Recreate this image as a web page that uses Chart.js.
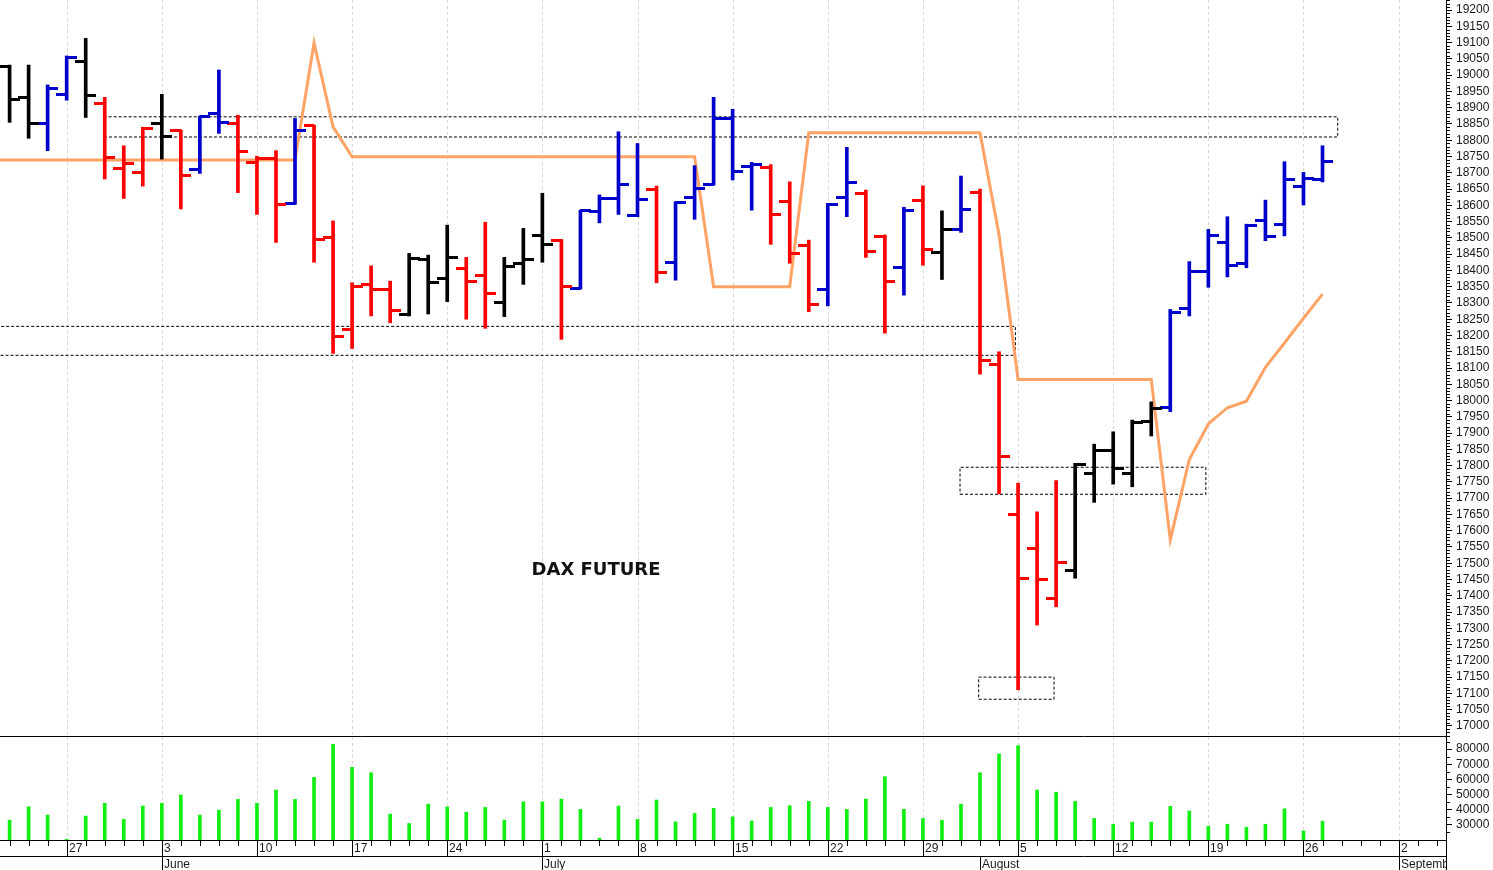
<!DOCTYPE html>
<html><head><meta charset="utf-8">
<script src="https://cdn.jsdelivr.net/npm/chart.js@4.4.1/dist/chart.umd.min.js"></script>
<style>
html,body{margin:0;padding:0;background:#fff;}
#wrap{position:relative;width:1493px;height:870px;overflow:hidden;background:#fff;}
canvas{position:absolute;left:0;}
#title{position:absolute;left:596px;top:569px;transform:translate(-50%,-50%);font:bold 18px "DejaVu Sans",Verdana,sans-serif;color:#111;white-space:nowrap;line-height:1;}
</style></head><body>
<div id="wrap">
<canvas id="price" width="1493" height="737" style="top:0"></canvas>
<canvas id="vol" width="1493" height="133" style="top:737px"></canvas>
<div id="title">DAX FUTURE</div>
</div>
<script>
// ---------- data ----------
const tradingDays = [
 '2024-05-22','2024-05-23','2024-05-24','2024-05-27','2024-05-28','2024-05-29','2024-05-30','2024-05-31',
 '2024-06-03','2024-06-04','2024-06-05','2024-06-06','2024-06-07','2024-06-10','2024-06-11','2024-06-12','2024-06-13','2024-06-14',
 '2024-06-17','2024-06-18','2024-06-19','2024-06-20','2024-06-21','2024-06-24','2024-06-25','2024-06-26','2024-06-27','2024-06-28',
 '2024-07-01','2024-07-02','2024-07-03','2024-07-04','2024-07-05','2024-07-08','2024-07-09','2024-07-10','2024-07-11','2024-07-12',
 '2024-07-15','2024-07-16','2024-07-17','2024-07-18','2024-07-19','2024-07-22','2024-07-23','2024-07-24','2024-07-25','2024-07-26',
 '2024-07-29','2024-07-30','2024-07-31','2024-08-01','2024-08-02','2024-08-05','2024-08-06','2024-08-07','2024-08-08','2024-08-09',
 '2024-08-12','2024-08-13','2024-08-14','2024-08-15','2024-08-16','2024-08-19','2024-08-20','2024-08-21','2024-08-22','2024-08-23',
 '2024-08-26','2024-08-27'];
const futureDays = ['2024-08-28','2024-08-29','2024-08-30','2024-09-02','2024-09-03','2024-09-04'];
const axisDays = tradingDays.concat(futureDays);

const opens = [19026,18930,18852,18941,19041,18913,18714,18701,18850,18829,
 18710,18883,18850,18732,18744,18606,18844,18502,18217,18358,
 18342,18263,18432,18376,18406,18383,18302,18422,18506,18493,
 18345,18580,18621,18568,18650,18425,18623,18665,18867,18720,
 18715,18612,18478,18340,18624,18637,18503,18409,18616,18455,
 18526,18639,18112,17651,17546,17391,17477,17776,17848,17776,
 17935,17978,18283,18398,18486,18422,18552,18541,18659,18678];
const highs = [19031,19031,18970,19059,19113,18932,18783,18840,18941,18831,
 18874,19016,18877,18751,18768,18867,18846,18552,18362,18414,
 18367,18452,18447,18539,18440,18548,18440,18529,18637,18495,
 18585,18632,18826,18790,18659,18611,18722,18932,18895,18732,
 18725,18672,18493,18606,18778,18647,18509,18594,18660,18583,
 18690,18650,18150,17746,17658,17754,17807,17866,17904,17940,
 17996,18280,18427,18526,18565,18542,18616,18734,18701,18783];
const lows = [18855,18806,18768,18923,18870,18681,18621,18659,18742,18589,
 18698,18821,18639,18572,18486,18603,18425,18145,18160,18260,
 18239,18260,18266,18304,18250,18222,18258,18357,18425,18188,
 18343,18546,18572,18565,18362,18370,18557,18662,18678,18585,
 18480,18422,18273,18291,18565,18440,18207,18324,18416,18372,
 18517,18081,17713,17111,17310,17366,17454,17687,17743,17735,
 17891,17966,18260,18348,18380,18408,18491,18506,18601,18672];
const closes = [18926,18852,18959,19053,18936,18746,18727,18836,18813,18693,
 18872,18855,18765,18744,18604,18831,18496,18196,18350,18342,
 18278,18437,18363,18440,18367,18330,18411,18432,18480,18350,
 18583,18621,18665,18618,18394,18608,18652,18867,18705,18724,
 18572,18452,18294,18604,18671,18459,18365,18585,18465,18526,
 18588,18122,17827,17454,17451,17503,17804,17845,17790,17932,
 17976,18271,18398,18506,18414,18539,18503,18678,18683,18734];
// trend state of each bar: k = neutral, b = up, r = down
const trend = ['k','k','b','b','k','r','r','r','k','r',
 'b','b','r','r','r','b','r','r','r','r',
 'r','k','k','k','r','r','k','k','k','r',
 'b','b','b','b','r','b','b','b','b','b',
 'r','r','r','b','b','r','r','b','r','k',
 'b','r','r','r','r','r','k','k','k','k',
 'k','b','b','b','b','b','b','b','b','b'];
const volumes = [33100,41900,36400,20500,35800,44200,33600,42400,44200,49700,
 36400,39700,46800,44200,53000,46800,61400,83200,68000,64400,
 37100,30900,43700,41900,38400,41500,33100,45200,45200,47000,
 40200,21200,42400,33600,46400,32000,37500,40900,35300,32600,
 41500,42600,45500,41500,40200,47000,61800,40200,34200,33100,
 43700,64400,76800,82300,53000,51500,45500,34200,30300,31800,
 31800,42200,39100,29100,30400,28300,30400,40600,26000,32400];
const stopBefore = 18739; // value of the session before the first visible one
const stopLine = [18739,18739,18739,18739,18739,18739,18739,18739,18739,18739,
 18739,18739,18739,18739,18739,18739,19099,18841,18749,18749,
 18749,18749,18749,18749,18749,18749,18749,18749,18749,18749,
 18749,18749,18749,18749,18749,18749,18749,18350,18350,18350,
 18350,18350,18823,18823,18823,18823,18823,18823,18823,18823,
 18823,18823,18510,18065,18065,18065,18065,18065,18065,18065,
 18065,17572,17819,17928,17978,17998,18102,18177,18253,18327];
// dashed zones (session index range, price range)
const zoneStart = [4.96, -1, 49.95, 50.93];
const zoneEnd   = [69.8, 52.86, 62.87, 54.89];
const zoneLow   = [18810, 18139, 17712, 17082];
const zoneHigh  = [18872, 18228, 17795, 17150];

const priceTicks = [17000,17050,17100,17150,17200,17250,17300,17350,17400,17450,17500,17550,17600,17650,17700,17750,17800,17850,17900,17950,18000,18050,18100,18150,18200,18250,18300,18350,18400,18450,18500,18550,18600,18650,18700,18750,18800,18850,18900,18950,19000,19050,19100,19150,19200];
const volumeTicks = [30000,40000,50000,60000,70000,80000];
const weekDates = ['2024-05-27','2024-06-03','2024-06-10','2024-06-17','2024-06-24','2024-07-01','2024-07-08','2024-07-15','2024-07-22','2024-07-29','2024-08-05','2024-08-12','2024-08-19','2024-08-26','2024-09-02'];
const weekLabels = ['27','3','10','17','24','1','8','15','22','29','5','12','19','26','2'];
const monthDates = ['2024-06-03','2024-07-01','2024-08-01','2024-09-02'];
const monthLabels = ['June','July','August','September'];

// ---------- config ----------
const XMIN = -0.504, XMAX = 75.49;
const PMIN = 16966, PMAX = 19231;
const VMIN = 20000, VMAX = 88000;
const AXIS_W = 47;
const COLORS = {r:'#ff0000', b:'#0000cc', k:'#000000'};
const FONT = {family:'"Liberation Sans", Arial, sans-serif', size:12};

Chart.defaults.font.family = FONT.family;
Chart.defaults.font.size = FONT.size;
Chart.defaults.color = '#1a1a1a';

function tickImg(color, side) {
  const c = document.createElement('canvas');
  c.width = 21; c.height = 3;
  const g = c.getContext('2d');
  g.fillStyle = color;
  if (side === 'L') g.fillRect(0, 0, 11, 3); else g.fillRect(10, 0, 11, 3);
  return c;
}
const imgs = {};
Object.keys(COLORS).forEach(k => { imgs[k] = {L: tickImg(COLORS[k], 'L'), R: tickImg(COLORS[k], 'R')}; });

const dayIndex = d => axisDays.indexOf(d);

const weekGrid = {
  id: 'weekGrid',
  beforeDatasetsDraw(chart) {
    const {ctx, chartArea: a, scales: {x}} = chart;
    ctx.save();
    ctx.strokeStyle = '#d6d6d6'; ctx.lineWidth = 1; ctx.setLineDash([3, 3]);
    ctx.beginPath();
    weekDates.forEach(d => {
      const px = Math.round(x.getPixelForValue(dayIndex(d))) + 0.5;
      ctx.moveTo(px, a.top); ctx.lineTo(px, a.bottom);
    });
    ctx.stroke();
    ctx.restore();
  }
};

const priceDecor = {
  id: 'priceDecor',
  afterDraw(chart) {
    const {ctx, chartArea: a, scales: {y}} = chart;
    ctx.save();
    ctx.strokeStyle = '#000'; ctx.lineWidth = 1;
    ctx.beginPath();
    for (let k = 0; k < priceTicks.length; k++) {
      for (let m = -4; m <= 4; m++) {
        if (m === 0) continue;
        const v = priceTicks[k] + m * 10;
        if (m < 0 && k > 0) continue;
        if (v < PMIN || v > PMAX) continue;
        const py = Math.round(y.getPixelForValue(v)) + 0.5;
        ctx.moveTo(a.right, py); ctx.lineTo(a.right + 4, py);
      }
    }
    ctx.moveTo(0, a.bottom - 0.5); ctx.lineTo(a.right, a.bottom - 0.5);
    ctx.stroke();
    ctx.restore();
  }
};

const volDecor = {
  id: 'volDecor',
  afterDraw(chart) {
    const {ctx, chartArea: a, scales: {x, y}} = chart;
    const b = a.bottom;
    const H = chart.height;
    ctx.save();
    ctx.strokeStyle = '#000'; ctx.lineWidth = 1;
    ctx.beginPath();
    [25000,35000,45000,55000,65000,75000,85000].forEach(v => {
      const py = Math.round(y.getPixelForValue(v)) + 0.5;
      ctx.moveTo(a.right, py); ctx.lineTo(a.right + 4, py);
    });
    ctx.moveTo(a.right + 0.5, b); ctx.lineTo(a.right + 0.5, H);
    ctx.stroke();
    ctx.beginPath(); ctx.rect(0, 0, a.right, H); ctx.clip();
    ctx.beginPath();
    ctx.moveTo(0, b + 0.5); ctx.lineTo(a.right, b + 0.5);
    ctx.moveTo(0, b + 16.5); ctx.lineTo(a.right, b + 16.5);
    axisDays.forEach((d, i) => {
      const px = Math.round(x.getPixelForValue(i)) + 0.5;
      ctx.moveTo(px, b); ctx.lineTo(px, b + 6);
    });
    weekDates.forEach(d => {
      const px = Math.round(x.getPixelForValue(dayIndex(d))) + 0.5;
      ctx.moveTo(px, b); ctx.lineTo(px, b + 16);
    });
    monthDates.forEach(d => {
      const px = Math.round(x.getPixelForValue(dayIndex(d))) + 0.5;
      ctx.moveTo(px, b + 16); ctx.lineTo(px, H);
    });
    ctx.stroke();
    ctx.fillStyle = '#1a1a1a';
    ctx.font = FONT.size + 'px ' + FONT.family;
    ctx.textAlign = 'left'; ctx.textBaseline = 'middle';
    weekDates.forEach((d, k) => {
      const px = Math.round(x.getPixelForValue(dayIndex(d)));
      ctx.fillText(weekLabels[k], px + 2, b + 9);
    });
    monthDates.forEach((d, k) => {
      const px = Math.round(x.getPixelForValue(dayIndex(d)));
      ctx.fillText(monthLabels[k], px + 2, b + 24.5);
    });
    ctx.restore();
  }
};

function yAxis(min, max, tickList) {
  return {
    type: 'linear', position: 'right', min: min, max: max,
    afterFit(s) { s.width = AXIS_W; s.paddingTop = 0; s.paddingBottom = 0; },
    afterBuildTicks(s) { s.ticks = tickList.map(v => ({value: v})); },
    ticks: {autoSkip: false, padding: 4, color: '#1a1a1a', font: FONT, callback: v => String(v)},
    grid: {drawOnChartArea: false, drawTicks: true, tickLength: 6, tickColor: '#000', tickWidth: 1},
    border: {display: true, color: '#000', width: 1}
  };
}
const xAxis = {type: 'linear', min: XMIN, max: XMAX, display: false, offset: false};
const common = {
  responsive: false, animation: false, devicePixelRatio: 1, events: [],
  plugins: {legend: {display: false}, tooltip: {enabled: false}}
};

// ---------- price chart ----------
const zoneSets = zoneStart.map((x0, k) => ({
  type: 'line',
  data: [{x: x0, y: zoneLow[k]}, {x: zoneEnd[k], y: zoneLow[k]}, {x: zoneEnd[k], y: zoneHigh[k]}, {x: x0, y: zoneHigh[k]}, {x: x0, y: zoneLow[k]}],
  borderColor: '#000', borderWidth: 1, borderDash: [3, 2], pointRadius: 0, fill: false, tension: 0, order: 5
}));

new Chart(document.getElementById('price'), {
  type: 'scatter',
  data: {
    datasets: [
      ...zoneSets,
      {
        type: 'line',
        data: [{x: -1, y: stopBefore}].concat(stopLine.map((v, i) => ({x: i, y: v}))),
        borderColor: '#ffa366', borderWidth: 3, pointRadius: 0, fill: false, tension: 0, order: 4
      },
      {
        type: 'bar',
        data: tradingDays.map((d, i) => ({x: i, y: [lows[i], highs[i]]})),
        backgroundColor: trend.map(t => COLORS[t]), borderWidth: 0, barThickness: 3, order: 3
      },
      {
        type: 'scatter',
        data: tradingDays.map((d, i) => ({x: i, y: opens[i]})),
        pointStyle: c => imgs[trend[c.dataIndex]].L, pointRadius: 6, order: 2
      },
      {
        type: 'scatter',
        data: tradingDays.map((d, i) => ({x: i, y: closes[i]})),
        pointStyle: c => imgs[trend[c.dataIndex]].R, pointRadius: 6, order: 1
      }
    ]
  },
  options: Object.assign({}, common, {
    layout: {padding: 0, autoPadding: false},
    scales: {x: xAxis, y: yAxis(PMIN, PMAX, priceTicks)}
  }),
  plugins: [weekGrid, priceDecor]
});

// ---------- volume chart ----------
new Chart(document.getElementById('vol'), {
  type: 'scatter',
  data: {
    datasets: [{
      type: 'bar',
      data: tradingDays.map((d, i) => ({x: i, y: volumes[i]})),
      backgroundColor: '#11ee11', borderWidth: 0, barThickness: 3
    }]
  },
  options: Object.assign({}, common, {
    layout: {padding: {top: 0, left: 0, right: 0, bottom: 30}, autoPadding: false},
    scales: {x: xAxis, y: yAxis(VMIN, VMAX, volumeTicks)}
  }),
  plugins: [weekGrid, volDecor]
});
</script></body></html>
